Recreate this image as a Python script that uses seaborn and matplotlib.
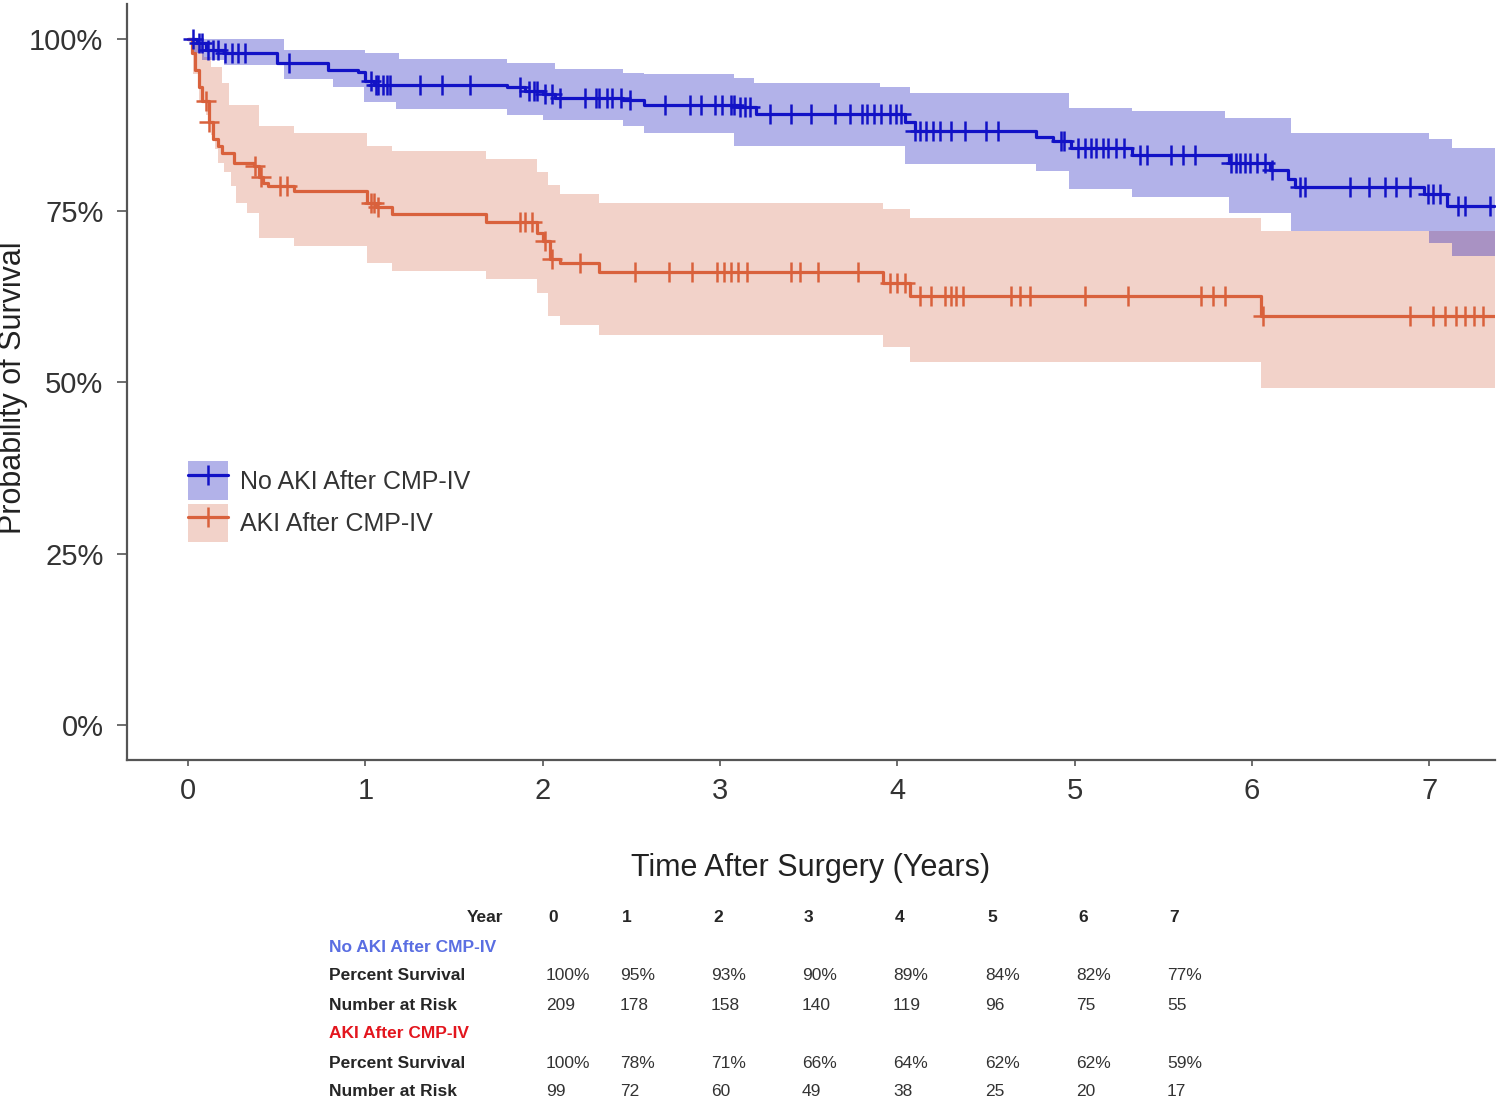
import numpy as np
import pandas as pd
import matplotlib
matplotlib.use('Agg')
import matplotlib.pyplot as plt
import seaborn as sns
from matplotlib.patches import Patch
from matplotlib.lines import Line2D
from matplotlib.legend_handler import HandlerTuple

# survival curves (time in years, survival in %)
noaki_t = [0, 0.05, 0.1, 0.2, 0.5, 0.79, 0.96, 1.0, 1.05, 1.8, 1.9, 2.0, 2.07, 2.45, 2.57, 3.1, 3.2,
           4.04, 4.1, 4.78, 4.88, 4.98, 5.32, 5.87, 6.1, 6.2, 6.24, 6.97, 7.1]
noaki_s = [100, 99.5, 98.5, 98.0, 96.6, 95.6, 95.3, 93.9, 93.4, 93.0, 92.5, 92.0, 91.5, 91.2, 90.5, 90.2, 89.1,
           87.9, 86.6, 85.8, 85.2, 84.1, 83.1, 82.0, 81.0, 79.6, 78.5, 77.4, 75.7]
noaki_up_t = [0, 0.54, 1.0, 1.19, 1.8, 2.07, 2.45, 2.57, 3.08, 3.19, 3.9, 4.07, 4.97, 5.32, 5.85, 6.22, 7.0, 7.13]
noaki_up = [100, 98.5, 98.05, 97.2, 96.6, 95.7, 95.1, 94.9, 94.3, 93.7, 93.0, 92.2, 90.0, 89.5, 88.6, 86.4, 85.4, 84.2]
noaki_lo_t = [0, 0.03, 0.08, 0.2, 0.54, 0.82, 0.99, 1.17, 1.8, 2.0, 2.45, 2.57, 3.08, 4.04, 4.78, 4.97, 5.32,
              5.87, 6.22, 7.0, 7.13]
noaki_lo = [100, 98.0, 97.0, 96.3, 94.2, 93.0, 90.8, 89.9, 89.0, 88.3, 87.3, 86.4, 84.4, 81.8, 80.8, 78.2, 77.0,
            74.7, 72.0, 70.3, 68.4]

aki_t = [0, 0.02, 0.04, 0.06, 0.08, 0.12, 0.14, 0.17, 0.19, 0.26, 0.37, 0.4, 0.42, 0.45, 0.6, 1.01, 1.06, 1.15,
         1.68, 1.97, 2.0, 2.04, 2.1, 2.32, 3.92, 4.07, 6.05]
aki_s = [100, 98, 95.5, 93, 91, 88, 85.4, 84.4, 83.5, 82, 81.5, 80, 79.1, 78.6, 77.9, 76.2, 75.5, 74.5,
         73.3, 71.8, 70.6, 67.9, 67.4, 66.0, 64.4, 62.5, 59.6]
aki_up_t = [0, 0.06, 0.09, 0.13, 0.19, 0.23, 0.4, 0.6, 1.01, 1.15, 1.68, 1.97, 2.03, 2.1, 2.32, 3.92, 4.07, 6.05]
aki_up = [100, 99, 97.5, 96, 93.7, 90.5, 87.3, 86.4, 84.4, 83.7, 82.5, 80.6, 78.8, 77.4, 76.2, 75.2, 74.0, 72.0]
aki_lo_t = [0, 0.03, 0.06, 0.1, 0.13, 0.15, 0.17, 0.2, 0.24, 0.27, 0.33, 0.4, 0.6, 1.01, 1.15, 1.68, 1.97, 2.03,
            2.1, 2.32, 3.92, 4.07, 6.05]
aki_lo = [100, 95, 91, 88.9, 86, 84, 82, 80.6, 78.6, 76.2, 74.7, 71.1, 69.8, 67.4, 66.2, 65.0, 63.0, 59.6,
          58.4, 56.9, 55.2, 53.0, 49.2]

# censoring times
noaki_cens = [0.03, 0.06, 0.08, 0.11, 0.14, 0.17, 0.21, 0.25, 0.28, 0.32, 0.57, 1.03, 1.06, 1.07, 1.1, 1.12, 1.14,
              1.31, 1.43, 1.59, 1.87, 1.92, 1.95, 1.97, 2.01, 2.05, 2.1, 2.24, 2.3, 2.32, 2.36, 2.39, 2.44, 2.49,
              2.69, 2.83, 2.89, 2.97, 3.01, 3.06, 3.08, 3.11, 3.14, 3.17, 3.28, 3.4, 3.51, 3.65, 3.73, 3.8, 3.83,
              3.87, 3.91, 3.96, 3.99, 4.02, 4.1, 4.13, 4.16, 4.2, 4.24, 4.3, 4.38, 4.5, 4.57, 4.92, 4.94, 5.02,
              5.06, 5.09, 5.12, 5.16, 5.19, 5.23, 5.28, 5.37, 5.41, 5.54, 5.61, 5.68, 5.88, 5.91, 5.93, 5.96,
              5.99, 6.03, 6.07, 6.11, 6.27, 6.3, 6.55, 6.66, 6.75, 6.81, 6.89, 6.99, 7.02, 7.06, 7.16, 7.2, 7.34]
aki_cens = [0.1, 0.12, 0.38, 0.41, 0.52, 0.56, 1.03, 1.05, 1.07, 1.87, 1.9, 1.94, 2.01, 2.05, 2.21, 2.52, 2.71,
            2.84, 2.98, 3.02, 3.06, 3.1, 3.15, 3.4, 3.45, 3.55, 3.78, 3.96, 4.0, 4.04, 4.13, 4.19, 4.27, 4.3,
            4.33, 4.37, 4.64, 4.69, 4.75, 5.06, 5.3, 5.71, 5.78, 5.85, 6.06, 6.89, 7.02, 7.09, 7.15, 7.2, 7.25, 7.3]

# risk table
years = [0, 1, 2, 3, 4, 5, 6, 7]
noaki_pct = ['100%', '95%', '93%', '90%', '89%', '84%', '82%', '77%']
noaki_risk = [209, 178, 158, 140, 119, 96, 75, 55]
aki_pct = ['100%', '78%', '71%', '66%', '64%', '62%', '62%', '59%']
aki_risk = [99, 72, 60, 49, 38, 25, 20, 17]

T_END = 7.37
blue = '#1212c6'
orange = '#d9613c'

sns.set_style('ticks')
plt.rcParams['font.family'] = ['Liberation Sans', 'DejaVu Sans']

fig = plt.figure(figsize=(15, 11.03), dpi=100)
ax = fig.add_axes([0.0847, 0.311, 0.912, 0.685])


def ext(t, v):
    return list(t) + [T_END], list(v) + [v[-1]]


# confidence bands
t, lo = ext(aki_lo_t, aki_lo)
t2, up = ext(aki_up_t, aki_up)
grid = np.unique(np.concatenate([t, t2]))
lo_g = np.array(lo)[np.searchsorted(t, grid, side='right') - 1]
up_g = np.array(up)[np.searchsorted(t2, grid, side='right') - 1]
ax.fill_between(grid, lo_g, up_g, step='post', color='#cf5a3a', alpha=0.27, lw=0)

t, lo = ext(noaki_lo_t, noaki_lo)
t2, up = ext(noaki_up_t, noaki_up)
grid = np.unique(np.concatenate([t, t2]))
lo_g = np.array(lo)[np.searchsorted(t, grid, side='right') - 1]
up_g = np.array(up)[np.searchsorted(t2, grid, side='right') - 1]
ax.fill_between(grid, lo_g, up_g, step='post', color='#0000b8', alpha=0.3, lw=0)

# step curves
rows = []
for name, tt, ss in [('No AKI After CMP-IV', noaki_t, noaki_s), ('AKI After CMP-IV', aki_t, aki_s)]:
    te, se = ext(tt, ss)
    rows += [{'group': name, 'time': a, 'surv': b} for a, b in zip(te, se)]
df = pd.DataFrame(rows)
sns.lineplot(data=df, x='time', y='surv', hue='group', estimator=None, sort=False,
             palette={'No AKI After CMP-IV': blue, 'AKI After CMP-IV': orange},
             drawstyle='steps-post', lw=2.3, legend=False, ax=ax)

# censor marks at the curve height
for tt, ss, cens, col in [(noaki_t, noaki_s, noaki_cens, blue), (aki_t, aki_s, aki_cens, orange)]:
    idx = np.searchsorted(tt, cens, side='right') - 1
    ax.plot(cens, np.array(ss)[idx], '+', color=col, ms=15, mew=1.8, ls='none')

ax.set_xlim(-0.344, T_END)
ax.set_ylim(-5.1, 105.1)
ax.set_xticks(years)
ax.set_yticks([0, 25, 50, 75, 100])
ax.set_yticklabels(['0%', '25%', '50%', '75%', '100%'])
ax.tick_params(axis='y', labelsize=21, length=7, width=1.2, colors='#555555', labelcolor='#333333', pad=10)
ax.tick_params(axis='x', labelsize=21, length=4, width=1.2, colors='#555555', labelcolor='#333333', pad=8)
for s in ['top', 'right']:
    ax.spines[s].set_visible(False)
for s in ['left', 'bottom']:
    ax.spines[s].set_color('#555555')
    ax.spines[s].set_linewidth(1.6)
ax.set_xlabel('Time After Surgery (Years)', fontsize=22, color='#222222', labelpad=35)
ax.set_ylabel('Probability of Survival', fontsize=22, color='#222222')
ax.yaxis.set_label_coords(-0.0725, 0.493)

# legend
h1 = (Patch(facecolor='#0000b8', alpha=0.3, lw=0), Line2D([], [], color=blue, lw=2.3, marker='+', ms=15, mew=1.8))
h2 = (Patch(facecolor='#cf5a3a', alpha=0.27, lw=0), Line2D([], [], color=orange, lw=2.3, marker='+', ms=15, mew=1.8))
ax.legend([h1, h2], ['No AKI After CMP-IV', 'AKI After CMP-IV'], handler_map={tuple: HandlerTuple(ndivide=1)},
          loc='upper left', bbox_to_anchor=(0.028, 0.425), frameon=False, fontsize=18,
          handlelength=1.6, handleheight=2.0, handletextpad=0.5, labelspacing=0.15, labelcolor='#333333')

# risk table under the plot
W, H = 1500.0, 1103.0
col_x = [546, 620, 711, 802, 893, 985, 1076, 1167]
row_y = [917, 947, 976, 1005, 1034, 1063, 1092]
fs = 12.5


def ftxt(x, y, s, **kw):
    fig.text(x / W, 1 - y / H, s, va='center', fontsize=fs, **kw)


ftxt(503, row_y[0], 'Year', ha='right', weight='bold')
for x, yr in zip(col_x, years):
    ftxt(x + 2, row_y[0], str(yr), weight='bold')
ftxt(329, row_y[1], 'No AKI After CMP-IV', weight='bold', color='#5a6ee2')
ftxt(329, row_y[2], 'Percent Survival', weight='bold')
ftxt(329, row_y[3], 'Number at Risk', weight='bold')
ftxt(329, row_y[4], 'AKI After CMP-IV', weight='bold', color='#e3161e')
ftxt(329, row_y[5], 'Percent Survival', weight='bold')
ftxt(329, row_y[6], 'Number at Risk', weight='bold')
for x, a, b, c, d in zip(col_x, noaki_pct, noaki_risk, aki_pct, aki_risk):
    ftxt(x, row_y[2], a, color='#333333')
    ftxt(x, row_y[3], str(b), color='#333333')
    ftxt(x, row_y[5], c, color='#333333')
    ftxt(x, row_y[6], str(d), color='#333333')

fig.savefig('out.png', dpi=100)
